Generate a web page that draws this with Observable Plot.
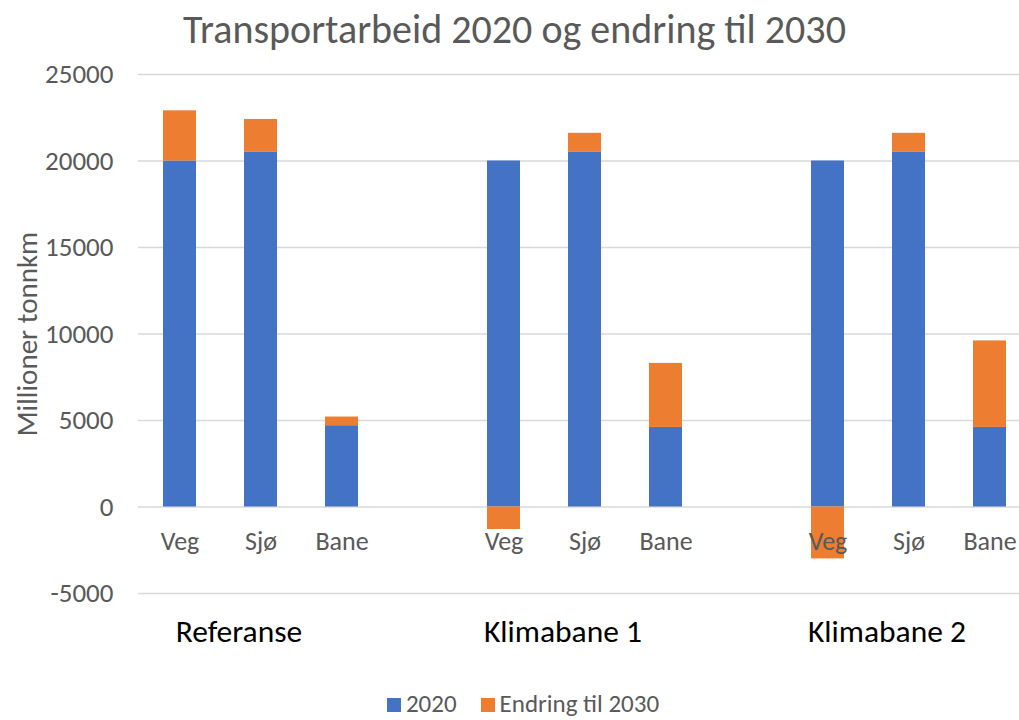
<!DOCTYPE html>
<html>
<head>
<meta charset="utf-8">
<script src="https://cdn.jsdelivr.net/npm/d3@7"></script>
<script src="https://cdn.jsdelivr.net/npm/@observablehq/plot@0.6"></script>
<style>
  body { margin: 0; background: #fff; font-family: Carlito, Calibri, "Open Sans", sans-serif; }
  #wrap { width: 1019px; height: 720px; position: relative; overflow: hidden; }
  #title { position: absolute; top: 0; left: 0; width: 1019px; height: 60px; text-align: center; font-size: 40px; color: #595959; line-height: 60px; padding-left: 10px; box-sizing: border-box; }
  #chart { position: absolute; top: 0; left: 0; }
  #legend { position: absolute; top: 692px; left: 0; width: 1019px; text-align: center; font-size: 25px; color: #595959; line-height: 24px; padding-left: 27px; box-sizing: border-box; }
  #legend span.sw { display: inline-block; width: 14px; height: 14px; margin-right: 5px; vertical-align: 0px; }
  #legend span.item { margin: 0 12px; }
</style>
</head>
<body>
<div id="wrap">
  <div id="chart"></div>
  <div id="title">Transportarbeid 2020 og endring til 2030</div>
  <div id="legend"></div>
</div>
<script>
const groups = ["Referanse", "Klimabane 1", "Klimabane 2"];
const modes = ["Veg", "Sjø", "Bane"];
const seriesNames = ["2020", "Endring til 2030"];
const values2020 = [20000, 20500, 4700, 20000, 20500, 4600, 20000, 20500, 4600];
const changeTo2030 = [2900, 1900, 500, -1300, 1100, 3700, -3000, 1100, 5000];
const yTicks = [-5000, 0, 5000, 10000, 15000, 20000, 25000];
const colors = ["#4472C4", "#ED7D31"];

// x domain: slots per group plus an empty slot between groups
const xDomain = [];
groups.forEach((g, gi) => {
  modes.forEach(m => xDomain.push(g + "|" + m));
  if (gi < groups.length - 1) xDomain.push("gap" + gi);
});

const rows = [];
groups.forEach((g, gi) => modes.forEach((m, mi) => {
  const i = gi * modes.length + mi;
  rows.push({key: g + "|" + m, group: g, mode: m, series: seriesNames[0], value: values2020[i]});
  rows.push({key: g + "|" + m, group: g, mode: m, series: seriesNames[1], value: changeTo2030[i]});
}));
const cats = [];
groups.forEach(g => modes.forEach(m => cats.push({key: g + "|" + m, mode: m, zero: 0})));

const font = 'Carlito, Calibri, "Open Sans", sans-serif';

const chart = Plot.plot({
  width: 1019,
  height: 680,
  marginTop: 74,
  marginBottom: 87,
  marginLeft: 138,
  marginRight: 0,
  style: {fontFamily: font, fontSize: "27px", color: "#595959", background: "transparent"},
  x: {domain: xDomain, range: [138.4, 1031.6], paddingInner: 0.59, paddingOuter: 0.295, axis: null},
  y: {domain: [-5000, 25000]},
  color: {domain: seriesNames, range: colors},
  marks: [
    Plot.gridY(yTicks, {stroke: "#d9d9d9", strokeOpacity: 1, strokeWidth: 1.5}),
    Plot.axisY(yTicks, {tickSize: 0, tickPadding: 25, tickFormat: d => String(d), fontSize: 27, fill: "#595959",
      label: "Millioner tonnkm", labelAnchor: "center", labelArrow: "none", labelOffset: 122}),
    Plot.barY(rows, Plot.stackY({x: "key", y: "value", fill: "series", order: seriesNames})),
    Plot.text(cats, {x: "key", y: "zero", text: "mode", dy: 35, fontSize: 26, fill: "#595959"}),
    Plot.axisX(groups.map(g => g + "|" + modes[1]), {anchor: "bottom", tickSize: 0, tickPadding: 26, dx: -22,
      tickFormat: d => d.split("|")[0], fontSize: 31.5, fill: "#000", label: null})
  ]
});
// enlarge the y-axis label slightly to match the reference
chart.querySelectorAll("text").forEach(t => {
  if (t.textContent === "Millioner tonnkm") t.setAttribute("font-size", "29");
});
document.getElementById("chart").appendChild(chart);

const legend = document.getElementById("legend");
seriesNames.forEach((s, i) => {
  const item = document.createElement("span");
  item.className = "item";
  item.innerHTML = `<span class="sw" style="background:${colors[i]}"></span>${s}`;
  legend.appendChild(item);
});
</script>
</body>
</html>
